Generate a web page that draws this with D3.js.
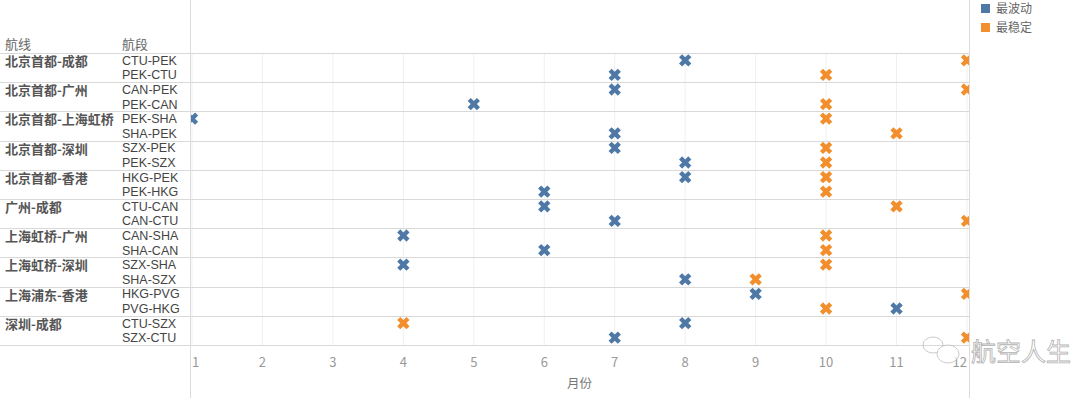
<!DOCTYPE html>
<html>
<head>
<meta charset="utf-8">
<script src="https://cdn.jsdelivr.net/npm/d3@7"></script>
<style>
    body { margin: 0; background: #fff; }
    text { font-family: "Noto Sans CJK SC", "Noto Sans", sans-serif; }
</style>
</head>
<body>
<div id="chart"></div>
<script>
var routes = ['北京首都-成都', '北京首都-广州', '北京首都-上海虹桥', '北京首都-深圳', '北京首都-香港',
    '广州-成都', '上海虹桥-广州', '上海虹桥-深圳', '上海浦东-香港', '深圳-成都'];
var segments = ['CTU-PEK', 'PEK-CTU', 'CAN-PEK', 'PEK-CAN', 'PEK-SHA', 'SHA-PEK', 'SZX-PEK', 'PEK-SZX',
    'HKG-PEK', 'PEK-HKG', 'CTU-CAN', 'CAN-CTU', 'CAN-SHA', 'SHA-CAN', 'SZX-SHA', 'SHA-SZX',
    'HKG-PVG', 'PVG-HKG', 'CTU-SZX', 'SZX-CTU'];
// month with the most volatile / most stable punctuality, one per segment
var volatileMonth = [8, 7, 7, 5, 1, 7, 7, 8, 8, 6, 6, 7, 4, 6, 4, 8, 9, 11, 8, 7];
var stableMonth = [12, 10, 12, 10, 10, 11, 10, 10, 10, 10, 11, 12, 10, 10, 10, 9, 12, 10, 4, 12];
var months = [1, 2, 3, 4, 5, 6, 7, 8, 9, 10, 11, 12];
var legendLabels = ['最波动', '最稳定'];

var w = 1080, h = 398;
var paneL = 190, paneR = 969, paneT = 53, paneB = 345;
var colors = ['#4e79a7', '#f28e2b'];

var svg = d3.select('#chart').append('svg')
    .attr('width', w).attr('height', h);

var x = d3.scaleLinear().domain([1, 12]).range([192, 967]);
var y = d3.scaleBand().domain(segments).range([paneT, paneB]);
var yRoute = d3.scaleBand().domain(routes).range([paneT, paneB]);

// vertical month grid
svg.append('g').selectAll('line').data(months).enter()
    .append('line')
    .attr('x1', x).attr('x2', x)
    .attr('y1', paneT).attr('y2', paneB)
    .attr('stroke', '#f0f0f0');

// route separators
svg.append('g').selectAll('line').data(routes).enter()
    .append('line')
    .attr('x1', 0).attr('x2', paneR)
    .attr('y1', function (d) { return Math.round(yRoute(d)) + 0.5; })
    .attr('y2', function (d) { return Math.round(yRoute(d)) + 0.5; })
    .attr('stroke', '#d9d9d9');
svg.append('line')
    .attr('x1', 0).attr('x2', paneR)
    .attr('y1', paneB + 0.5).attr('y2', paneB + 0.5)
    .attr('stroke', '#d9d9d9');

// pane borders
[paneL, paneR].forEach(function (px) {
    svg.append('line')
        .attr('x1', px + 0.5).attr('x2', px + 0.5)
        .attr('y1', 0).attr('y2', h)
        .attr('stroke', '#dcdcdc');
});

// headers
svg.append('text').attr('x', 5).attr('y', 49).text('航线')
    .attr('font-size', 13).attr('fill', '#666');
svg.append('text').attr('x', 122).attr('y', 49).text('航段')
    .attr('font-size', 13).attr('fill', '#666');

svg.append('g').selectAll('text').data(routes).enter()
    .append('text')
    .attr('x', 5)
    .attr('y', function (d) { return yRoute(d) + 13; })
    .attr('font-size', 13)
    .attr('font-weight', 'bold')
    .attr('fill', '#555')
    .text(function (d) { return d; });

svg.append('g').selectAll('text').data(segments).enter()
    .append('text')
    .attr('x', 122)
    .attr('y', function (d) { return y(d) + y.bandwidth() / 2; })
    .attr('dy', '0.36em')
    .style('font-family', '"Liberation Sans", Arial, sans-serif')
    .attr('font-size', 12.5)
    .attr('fill', '#444')
    .text(function (d) { return d; });

// month axis labels
svg.append('g').selectAll('text').data(months).enter()
    .append('text')
    .attr('x', x)
    .attr('y', 367)
    .attr('text-anchor', function (d) { return d == 1 ? 'start' : d == 12 ? 'end' : 'middle'; })
    .attr('font-size', 13)
    .attr('fill', '#999')
    .text(function (d) { return d; });
svg.append('text')
    .attr('x', (x(1) + x(12)) / 2).attr('y', 388)
    .attr('text-anchor', 'middle')
    .attr('font-size', 12.5).attr('fill', '#777')
    .text('月份');

// marks
svg.append('clipPath').attr('id', 'pane')
    .append('rect')
    .attr('x', paneL + 1).attr('y', paneT)
    .attr('width', paneR - paneL - 1).attr('height', paneB - paneT);

var points = [];
segments.forEach(function (s, i) {
    points.push({ seg: s, month: volatileMonth[i], k: 0 });
    points.push({ seg: s, month: stableMonth[i], k: 1 });
});
var cross = d3.symbol().type(d3.symbolCross).size(95);
svg.append('g').attr('clip-path', 'url(#pane)')
    .selectAll('path').data(points).enter()
    .append('path')
    .attr('d', cross)
    .attr('transform', function (d) {
        return 'translate(' + x(d.month) + ',' + (y(d.seg) + y.bandwidth() / 2) + ') rotate(45)';
    })
    .attr('fill', function (d) { return colors[d.k]; });

// legend
var lg = svg.append('g').selectAll('g').data(legendLabels).enter()
    .append('g')
    .attr('transform', function (d, i) { return 'translate(981,' + (4 + i * 19) + ')'; });
lg.append('rect').attr('width', 9).attr('height', 9)
    .attr('fill', function (d, i) { return colors[i]; });
lg.append('text').attr('x', 15).attr('y', 9)
    .attr('font-size', 12).attr('fill', '#666')
    .text(function (d) { return d; });

// watermark
var wm = svg.append('g').attr('opacity', 0.75);
wm.append('ellipse').attr('cx', 933).attr('cy', 345).attr('rx', 10).attr('ry', 8)
    .attr('fill', 'none').attr('stroke', '#bbb');
wm.append('ellipse').attr('cx', 948).attr('cy', 354).attr('rx', 11).attr('ry', 9)
    .attr('fill', '#fff').attr('stroke', '#bbb');
wm.append('text').attr('x', 971).attr('y', 361)
    .attr('font-size', 25).attr('fill', '#fff')
    .attr('stroke', '#999').attr('stroke-width', 0.8)
    .text('航空人生');
</script>
</body>
</html>
